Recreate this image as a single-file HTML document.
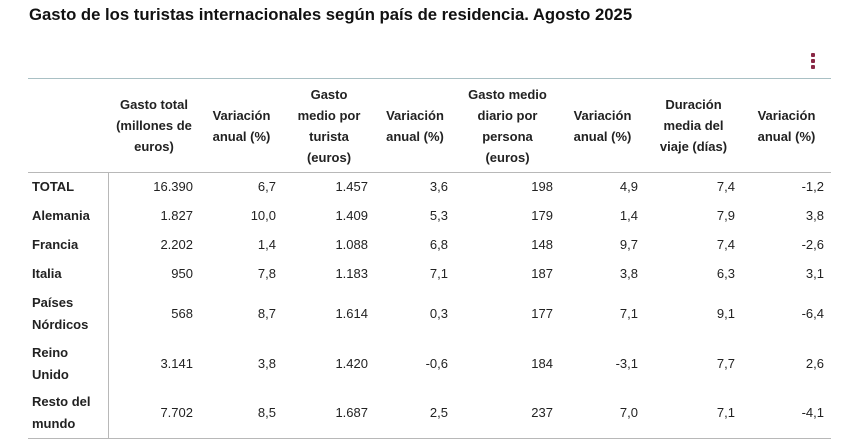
<!DOCTYPE html>
<html><head><meta charset="utf-8"><style>
body{margin:0;width:842px;height:448px;background:#fff;font-family:"Liberation Sans",sans-serif;color:#222;position:relative;overflow:hidden}
.t{position:absolute;left:29px;top:5px;font-size:16.7px;font-weight:bold;color:#111;white-space:nowrap}
.dots{position:absolute;left:811px;top:53px;width:5px}
.dots i{display:block;width:4px;height:4px;background:#8a2846;margin-bottom:2px;border-radius:1px}
table{position:absolute;left:28px;top:78px;width:803px;border-collapse:collapse;font-size:13px}
thead tr{height:94px}
thead th{font-weight:bold;text-align:center;line-height:21px;padding:0 4px;vertical-align:middle}
thead th.n{padding:0 14px}
thead{border-top:1.5px solid #a9c0c4;border-bottom:1.5px solid #b8b8b8}
tbody{border-bottom:1.5px solid #b8b8b8}
td{text-align:right;padding:0 7px 0 0;line-height:22px}
td:first-child{text-align:left;font-weight:bold;padding-left:4px;border-right:1px solid #b8b8b8}
tr.s{height:29px}tr.d{height:50px}
</style></head><body>
<div class="t">Gasto de los turistas internacionales según país de residencia. Agosto 2025</div>
<div class="dots"><i></i><i></i><i></i></div>
<table>
<colgroup><col style="width:80px"><col style="width:92px"><col style="width:83px"><col style="width:92px"><col style="width:80px"><col style="width:105px"><col style="width:85px"><col style="width:97px"><col style="width:89px"></colgroup>
<thead><tr><th></th><th>Gasto total (millones de euros)</th><th>Variación anual (%)</th><th class="n">Gasto medio por turista (euros)</th><th>Variación anual (%)</th><th>Gasto medio diario por persona (euros)</th><th>Variación anual (%)</th><th>Duración media del viaje (días)</th><th>Variación anual (%)</th></tr></thead>
<tbody>
<tr class="s"><td>TOTAL</td><td>16.390</td><td>6,7</td><td>1.457</td><td>3,6</td><td>198</td><td>4,9</td><td>7,4</td><td>-1,2</td></tr>
<tr class="s"><td>Alemania</td><td>1.827</td><td>10,0</td><td>1.409</td><td>5,3</td><td>179</td><td>1,4</td><td>7,9</td><td>3,8</td></tr>
<tr class="s"><td>Francia</td><td>2.202</td><td>1,4</td><td>1.088</td><td>6,8</td><td>148</td><td>9,7</td><td>7,4</td><td>-2,6</td></tr>
<tr class="s"><td>Italia</td><td>950</td><td>7,8</td><td>1.183</td><td>7,1</td><td>187</td><td>3,8</td><td>6,3</td><td>3,1</td></tr>
<tr class="d"><td>Países Nórdicos</td><td>568</td><td>8,7</td><td>1.614</td><td>0,3</td><td>177</td><td>7,1</td><td>9,1</td><td>-6,4</td></tr>
<tr class="d"><td>Reino Unido</td><td>3.141</td><td>3,8</td><td>1.420</td><td>-0,6</td><td>184</td><td>-3,1</td><td>7,7</td><td>2,6</td></tr>
<tr class="d"><td>Resto del mundo</td><td>7.702</td><td>8,5</td><td>1.687</td><td>2,5</td><td>237</td><td>7,0</td><td>7,1</td><td>-4,1</td></tr>
</tbody></table>
</body></html>
